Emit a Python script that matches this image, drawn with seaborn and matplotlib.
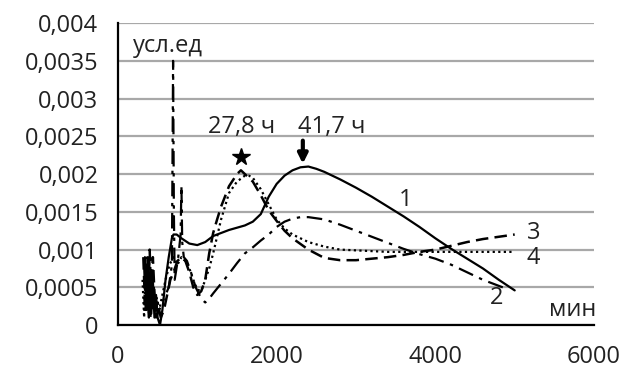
import pandas as pd
import matplotlib
matplotlib.use("Agg")
import matplotlib.pyplot as plt
import seaborn as sns

# curve 1 (solid)
x1 = [340, 360, 375, 390, 405, 420, 440, 460, 480, 500,
      530, 560, 600, 640, 680, 700, 740, 800, 900, 1000,
      1100, 1200, 1300, 1400, 1500, 1600, 1700, 1800, 1900, 2000,
      2100, 2200, 2300, 2400, 2500, 2600, 2800, 3000, 3200, 3400,
      3600, 3800, 4000, 4200, 4400, 4600, 4800, 5000]
y1 = [0.0009, 0.0002, 0.0008, 0.0001, 0.0007, 0.00015, 0.0006, 0.0001, 0.0004, 0.0001,
      0.0, 0.0002, 0.0006, 0.0009, 0.00115, 0.0012, 0.0012, 0.00115, 0.00108, 0.00106,
      0.0011, 0.00118, 0.00122, 0.00126, 0.00129, 0.00132, 0.00137, 0.00147, 0.0017, 0.00187,
      0.00198, 0.00205, 0.00209, 0.0021, 0.00207, 0.00203, 0.00193, 0.00182, 0.0017, 0.00157,
      0.00144, 0.0013, 0.00115, 0.00101, 0.00088, 0.00075, 0.0006, 0.00046]

# curve 2 (dash-dot)
x2 = [330, 350, 370, 390, 410, 430, 450, 480, 520, 560,
      600, 640, 680, 695, 705, 715, 730, 760, 790, 800,
      810, 830, 870, 920, 980, 1050, 1100, 1150, 1200, 1300,
      1400, 1500, 1600, 1700, 1800, 1900, 2000, 2100, 2200, 2300,
      2400, 2600, 2800, 3000, 3200, 3400, 3600, 3800, 4000, 4200,
      4400, 4600, 4800, 4900]
y2 = [0.0008, 0.0002, 0.0009, 0.0001, 0.0007, 0.0002, 0.0005, 0.0001, 0.0002, 0.0003,
      0.0004, 0.0005, 0.0008, 0.0035, 0.0015, 0.0006, 0.0007, 0.0009, 0.0012, 0.00185,
      0.0011, 0.0009, 0.00085, 0.0007, 0.0005, 0.00035, 0.0003, 0.00035, 0.00042, 0.00055,
      0.00068, 0.00082, 0.00095, 0.00103, 0.00112, 0.0012, 0.0013, 0.00137, 0.00141, 0.00143,
      0.00143, 0.0014, 0.00133, 0.00125, 0.00117, 0.00109, 0.00101, 0.00094, 0.00088, 0.0008,
      0.0007, 0.0006, 0.00052, 0.00048]

# curve 3 (dashed)
x3 = [320, 340, 360, 380, 400, 420, 440, 470, 500, 540,
      580, 620, 660, 700, 750, 800, 850, 900, 950, 1000,
      1050, 1100, 1150, 1200, 1250, 1300, 1400, 1500, 1550, 1600,
      1700, 1800, 1900, 2000, 2100, 2200, 2400, 2600, 2800, 3000,
      3200, 3400, 3600, 3800, 4000, 4200, 4400, 4600, 4800, 5000]
y3 = [0.0009, 0.0003, 0.0008, 0.0002, 0.001, 0.0003, 0.0009, 0.0002, 0.0003, 0.0001,
      0.0002, 0.0004, 0.0006, 0.0007, 0.00085, 0.0009, 0.00085, 0.0007, 0.0005, 0.0004,
      0.00045, 0.0006, 0.00095, 0.00122, 0.0014, 0.00157, 0.00184, 0.002, 0.00205, 0.002,
      0.0019, 0.00172, 0.00152, 0.00138, 0.00125, 0.00115, 0.001, 0.00089, 0.00086, 0.00086,
      0.00088, 0.0009, 0.00093, 0.00097, 0.001, 0.00105, 0.0011, 0.00114, 0.00117, 0.0012]

# curve 4 (dotted)
x4 = [310, 330, 350, 370, 390, 410, 430, 450, 480, 520,
      560, 600, 650, 700, 750, 800, 850, 900, 950, 1000,
      1050, 1100, 1150, 1200, 1300, 1400, 1500, 1600, 1650, 1700,
      1800, 1900, 2000, 2100, 2200, 2400, 2600, 2800, 3000, 3200,
      3400, 3600, 3800, 4000, 4200, 4400, 4600, 4800, 5000]
y4 = [0.0006, 0.0001, 0.0008, 0.0002, 0.0009, 0.0001, 0.0007, 0.0002, 0.0004, 0.0002,
      0.0004, 0.0006, 0.0008, 0.0009, 0.0008, 0.0009, 0.00085, 0.00075, 0.0006, 0.00047,
      0.00045, 0.0006, 0.00075, 0.00095, 0.0014, 0.00175, 0.0019, 0.00198, 0.00198, 0.00195,
      0.0018, 0.0016, 0.0014, 0.00128, 0.0012, 0.0011, 0.00104, 0.001, 0.00099, 0.00098,
      0.00097, 0.00097, 0.00097, 0.00097, 0.00097, 0.00097, 0.00097, 0.00097, 0.00097]

x_ticks = [0, 2000, 4000, 6000]
y_ticks = [0, 0.0005, 0.001, 0.0015, 0.002, 0.0025, 0.003, 0.0035, 0.004]
y_labels = ["0", "0,0005", "0,001", "0,0015", "0,002", "0,0025", "0,003", "0,0035", "0,004"]

sns.set_theme(style="white")
plt.rcParams['font.family'] = ['Open Sans', 'DejaVu Sans']

fig = plt.figure(figsize=(6.24, 3.72), dpi=100)
ax = fig.add_axes([0.189, 0.126, 0.763, 0.812])

styles = [
    (x1, y1, '-', 1.6),
    (x2, y2, (0, (7, 3, 1.5, 3)), 1.6),
    (x3, y3, (0, (5, 2.5)), 1.8),
    (x4, y4, (0, (1, 1.5)), 1.6),
]
for xs, ys, ls, lw in styles:
    df = pd.DataFrame({'t': xs, 'v': ys})
    sns.lineplot(data=df, x='t', y='v', estimator=None, sort=False,
                 color='black', linestyle=ls, linewidth=lw, ax=ax)

ax.set_xlim(0, 6000)
ax.set_ylim(0, 0.004)
ax.set_xticks(x_ticks)
ax.set_yticks(y_ticks)
ax.set_yticklabels(y_labels)
ax.set_xlabel('')
ax.set_ylabel('')
ax.grid(axis='y', color='#a8a8a8', linewidth=1.6)
ax.set_axisbelow(True)
for side in ['top', 'right']:
    ax.spines[side].set_visible(False)
for side in ['left', 'bottom']:
    ax.spines[side].set_color('black')
    ax.spines[side].set_linewidth(1.6)
ax.tick_params(axis='both', direction='out', length=6, width=1.6, color='black',
               labelsize=17, labelcolor='#222222')
ax.tick_params(axis='y', pad=8)
ax.tick_params(axis='x', pad=8)

# annotations
txt = dict(fontsize=17, va='center', color='#222222')
ax.text(190, 0.0037, 'усл.ед', ha='left', **txt)
ax.text(5430, 0.0002, 'мин', ha='left', **txt)
ax.text(1560, 0.00263, '27,8 ч', ha='center', **txt)
ax.text(2270, 0.00263, '41,7 ч', ha='left', **txt)
ax.plot([1550], [0.00223], marker='*', markersize=13, color='black')
ax.annotate('', xy=(2330, 0.0021), xytext=(2330, 0.00248),
            arrowprops=dict(arrowstyle='-|>', lw=3, color='black', mutation_scale=14))
ax.text(3620, 0.00166, '1', ha='center', **txt)
ax.text(4770, 0.00036, '2', ha='center', **txt)
ax.text(5240, 0.00122, '3', ha='center', **txt)
ax.text(5240, 0.00089, '4', ha='center', **txt)

fig.savefig('out.png', dpi=100)
